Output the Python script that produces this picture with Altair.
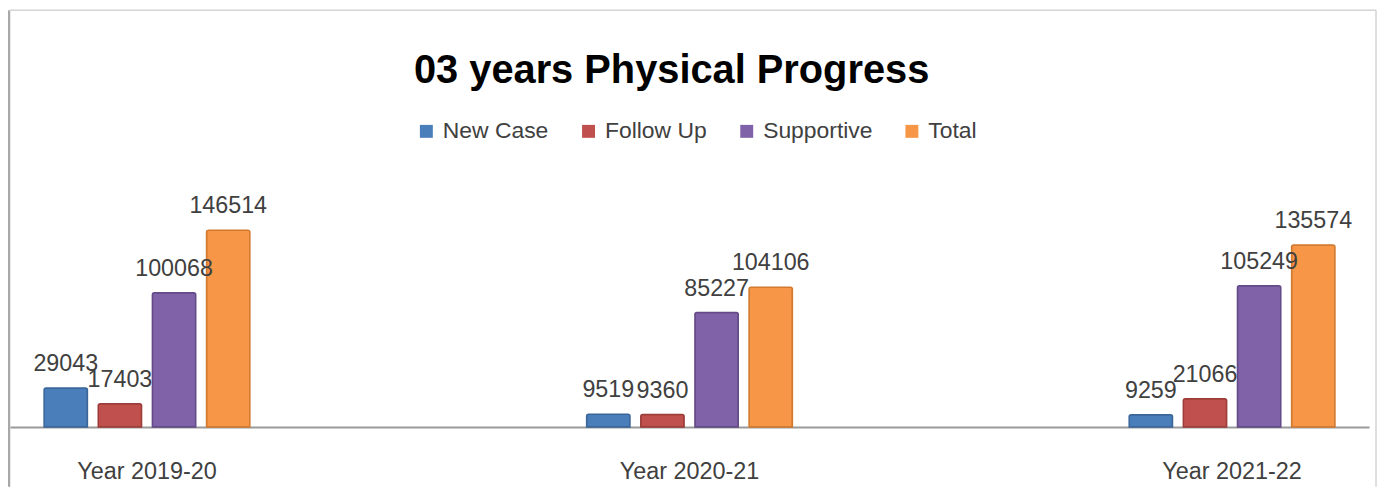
import altair as alt
import pandas as pd

years = ["Year 2019-20", "Year 2020-21", "Year 2021-22"]
series = ["New Case", "Follow Up", "Supportive", "Total"]
new_case = [29043, 9519, 9259]
follow_up = [17403, 9360, 21066]
supportive = [100068, 85227, 105249]
total = [146514, 104106, 135574]

fill_colors = ["#4a7ebb", "#c0504d", "#7f62a8", "#f79646"]
edge_colors = ["#3a6699", "#9c3d3a", "#644a87", "#d27a30"]
FONT = "Liberation Sans"

rows = []
for vals, s in zip([new_case, follow_up, supportive, total], series):
    for y, v in zip(years, vals):
        rows.append({"year": y, "series": s, "value": v})
df = pd.DataFrame(rows)

W, H = 1366, 216
PAD_L, PAD_T, PAD_R, PAD_B = 2, 204, 9, 60

x_enc = alt.X(
    "year:N", sort=years,
    scale=alt.Scale(paddingInner=0.495, paddingOuter=0),
    axis=alt.Axis(title=None, ticks=False, labelAngle=0, labelFont=FONT,
                  labelFontSize=23.5, labelColor="#404040", labelPadding=33,
                  domainColor="#9a9a9a", domainWidth=2),
)
xo_enc = alt.XOffset("series:N", sort=series,
                     scale=alt.Scale(paddingInner=0.2, paddingOuter=0.63))
y_enc = alt.Y("value:Q", scale=alt.Scale(domain=[0, 160000]), axis=None)

base = alt.Chart(df).encode(x=x_enc, xOffset=xo_enc, y=y_enc)

bars = base.mark_bar(strokeWidth=1.5, cornerRadiusTopLeft=2, cornerRadiusTopRight=2).encode(
    color=alt.Color(
        "series:N", sort=series,
        scale=alt.Scale(domain=series, range=fill_colors),
        legend=alt.Legend(orient="none", legendX=407, legendY=-93,
                          direction="horizontal", title=None,
                          symbolType="square", symbolSize=169,
                          symbolStrokeWidth=0, labelFont=FONT,
                          labelFontSize=23, labelColor="#404040",
                          columnPadding=28, labelOffset=5),
    ),
    stroke=alt.Stroke("series:N", sort=series,
                      scale=alt.Scale(domain=series, range=edge_colors),
                      legend=None),
)

labels = base.mark_text(dy=-17, baseline="alphabetic", font=FONT,
                        fontSize=23.4, color="#404040").encode(
    text=alt.Text("value:Q", format="d")
)

one = pd.DataFrame({"k": [0]})
left_border = alt.Chart(one).mark_rule(color="#a8a8a8", strokeWidth=2.5).encode(
    x=alt.value(-1), y=alt.value(-203), y2=alt.value(H + PAD_B))
top_border = alt.Chart(one).mark_rule(color="#d4d4d4", strokeWidth=1.5).encode(
    x=alt.value(-1), x2=alt.value(W + 7), y=alt.value(-203))
right_border = alt.Chart(one).mark_rule(color="#d4d4d4", strokeWidth=1.5).encode(
    x=alt.value(W + 7), y=alt.value(-203), y2=alt.value(H + PAD_B))

chart = alt.layer(left_border, top_border, right_border, bars, labels).properties(
    width=W, height=H,
    autosize=alt.AutoSizeParams(type="none"),
    padding={"left": PAD_L, "top": PAD_T, "right": PAD_R, "bottom": PAD_B},
    title=alt.TitleParams(text="03 years Physical Progress", font=FONT,
                          fontSize=40, fontWeight="bold", color="#000000",
                          anchor="middle", dx=-18, offset=0, dy=114,
                          baseline="alphabetic"),
).configure(background="white").configure_view(stroke=None)

chart.save("out.html", embed_options={"renderer": "svg", "actions": False})
